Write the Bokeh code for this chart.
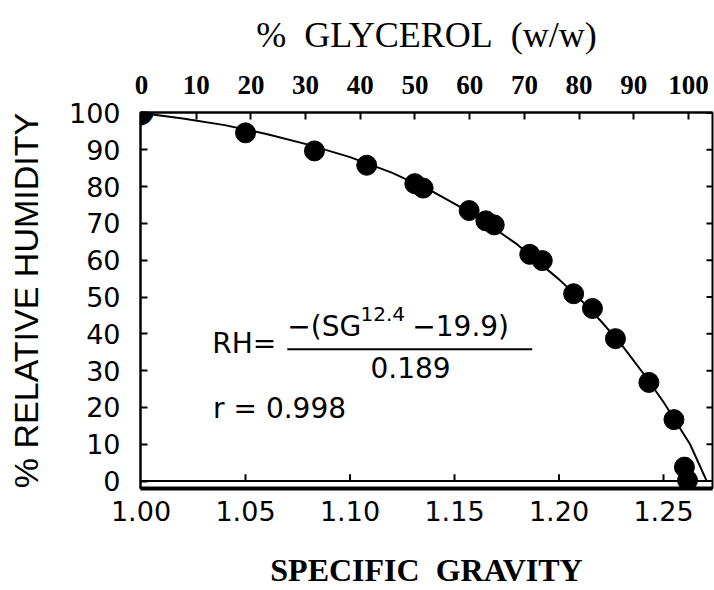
from bokeh.plotting import figure
from bokeh.models import Range1d, LinearAxis, FixedTicker, Span, Label, BoxAnnotation
from bokeh.embed import file_html
from bokeh.resources import INLINE

# measured points (specific gravity, % relative humidity)
sg_points = [1.000, 1.050, 1.083, 1.108, 1.131, 1.135, 1.157, 1.165, 1.169,
             1.186, 1.192, 1.207, 1.216, 1.227, 1.243, 1.255, 1.260, 1.2615]
rh_points = [100.0, 94.6, 89.7, 85.8, 80.8, 79.6, 73.5, 70.7, 69.6,
             61.6, 59.9, 50.9, 46.9, 38.7, 26.8, 16.7, 3.8, 0.2]

# fitted curve
sg_curve = [1.000, 1.020, 1.040, 1.060, 1.080, 1.100, 1.120, 1.140, 1.160,
            1.180, 1.200, 1.210, 1.220, 1.230, 1.240, 1.250, 1.2627, 1.2707]
rh_curve = [100.0, 98.5, 96.7, 94.3, 91.4, 88.0, 83.8, 78.5, 72.2,
            64.3, 54.8, 49.5, 43.5, 37.0, 29.5, 21.5, 10.0, 0.0]

sg_ticks = [1.00, 1.05, 1.10, 1.15, 1.20, 1.25]
sg_tick_labels = ["1.00", "1.05", "1.10", "1.15", "1.20", "1.25"]
rh_ticks = [0, 10, 20, 30, 40, 50, 60, 70, 80, 90, 100]
glycerol_ticks = [0, 10, 20, 30, 40, 50, 60, 70, 80, 90, 100]

x_start, x_end = 0.99976, 1.27344
y_start, y_end = -2.01, 100.13
px_per_x = 2090.0   # screen px per unit of specific gravity
px_per_y = 3.74     # screen px per % RH
dot_size = 20

p = figure(width=714, height=590, output_backend="svg", toolbar_location=None,
           x_range=Range1d(x_start, x_end), y_range=Range1d(y_start, y_end),
           min_border_left=140, min_border_right=2, min_border_top=112,
           min_border_bottom=96, background_fill_color="white",
           border_fill_color="white")
p.outline_line_color = "black"
p.outline_line_width = 2
p.xgrid.visible = False
p.ygrid.visible = False

# bottom axis (thick line, labels only)
bx = p.below[0]
bx.ticker = FixedTicker(ticks=sg_ticks)
bx.major_label_overrides = {t: s for t, s in zip(sg_ticks, sg_tick_labels)}
bx.major_tick_in = 0
bx.major_tick_out = 0
bx.minor_tick_in = 0
bx.minor_tick_out = 0
bx.axis_line_width = 4
bx.axis_line_color = "black"
bx.major_label_text_font = "DejaVu Sans"
bx.major_label_text_font_size = "27px"
bx.major_label_text_color = "black"
bx.major_label_standoff = 12
bx.axis_label = "SPECIFIC\u00a0\u00a0GRAVITY"
bx.axis_label_text_font = "Liberation Serif"
bx.axis_label_text_font_style = "bold"
bx.axis_label_text_font_size = "32px"
bx.axis_label_text_color = "black"
bx.axis_label_standoff = 28

# left axis
ly = p.left[0]
ly.ticker = FixedTicker(ticks=rh_ticks)
ly.major_tick_in = 7
ly.major_tick_out = 0
ly.minor_tick_in = 0
ly.minor_tick_out = 0
ly.major_tick_line_width = 2
ly.axis_line_width = 2
ly.axis_line_color = "black"
ly.major_label_text_font = "DejaVu Sans"
ly.major_label_text_font_size = "27px"
ly.major_label_text_color = "black"
ly.major_label_standoff = 20
ly.axis_label = "% RELATIVE HUMIDITY"
ly.axis_label_text_font = "Liberation Sans"
ly.axis_label_text_font_style = "normal"
ly.axis_label_text_font_size = "34px"
ly.axis_label_text_color = "black"
ly.axis_label_standoff = 21

# top axis: % glycerol
p.extra_x_ranges = {"gly": Range1d(-0.18, 104.39)}
tx = LinearAxis(x_range_name="gly", ticker=FixedTicker(ticks=glycerol_ticks),
                major_tick_in=7, major_tick_out=0, minor_tick_in=0, minor_tick_out=0,
                axis_line_width=2, major_tick_line_width=2,
                major_label_text_font="Liberation Serif",
                major_label_text_font_style="bold",
                major_label_text_font_size="27px", major_label_text_color="black",
                major_label_standoff=19,
                axis_label="%\u00a0\u00a0GLYCEROL\u00a0\u00a0(w/w)",
                axis_label_text_font="Liberation Serif",
                axis_label_text_font_style="normal",
                axis_label_text_font_size="36px", axis_label_text_color="black",
                axis_label_standoff=18)
p.add_layout(tx, "above")

# right-hand frame ticks (pointing inward)
tick_dx = 6 / px_per_x
p.segment(x0=[x_end] * len(rh_ticks), y0=rh_ticks,
          x1=[x_end - tick_dx] * len(rh_ticks), y1=rh_ticks,
          line_color="black", line_width=2)

# thin baseline at RH = 0 with upward ticks
p.add_layout(Span(location=0, dimension="width", line_color="black", line_width=2))
p.segment(x0=sg_ticks[1:], y0=[0] * 5, x1=sg_ticks[1:], y1=[7 / px_per_y] * 5,
          line_color="black", line_width=2)

# curve and points
p.line(sg_curve, rh_curve, line_color="black", line_width=2)
p.scatter(sg_points, rh_points, size=dot_size, color="black")

# the point sitting on the corner, drawn as an un-clipped label glyph
# (small pixel corrections centre the glyph on the data point)
p.add_layout(Label(x=sg_points[0] - 3 / px_per_x, y=rh_points[0] + 6.3 / px_per_y,
                   text="\u25cf", text_font="DejaVu Sans", text_font_size="42px",
                   text_color="#000000", text_align="center", text_baseline="middle"))

# equation
eq_font = "DejaVu Sans"
p.add_layout(Label(x=1.0341, y=32.9, text="RH=", text_font=eq_font,
                   text_font_size="28px", text_color="black"))
p.add_layout(Label(x=1.0700, y=37.4, text="\u2212(SG", text_font=eq_font,
                   text_font_size="28px", text_color="black"))
p.add_layout(Label(x=1.1050, y=43.6, text="12.4", text_font=eq_font,
                   text_font_size="20px", text_color="black"))
p.add_layout(Label(x=1.1298, y=37.4, text="\u221219.9)", text_font=eq_font,
                   text_font_size="28px", text_color="black"))
p.add_layout(BoxAnnotation(left=1.0700, right=1.1872, bottom=35.55, top=36.08,
                           fill_color="black", fill_alpha=1.0, line_color=None))
p.add_layout(Label(x=1.1098, y=28.0, text="0.189", text_font=eq_font,
                   text_font_size="28px", text_color="black"))
p.add_layout(Label(x=1.0345, y=15.2, text="r = 0.998", text_font=eq_font,
                   text_font_size="28px", text_color="black"))

open("out.html", "w").write(file_html(p, INLINE))
